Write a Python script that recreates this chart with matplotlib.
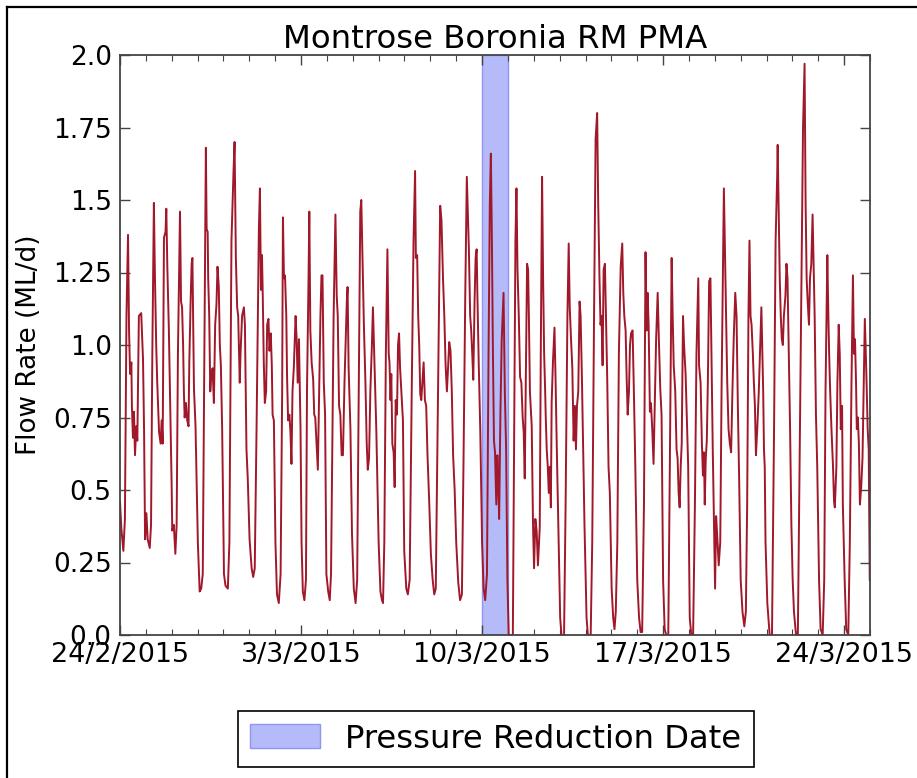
import matplotlib
matplotlib.use("Agg")
import matplotlib.pyplot as plt
import matplotlib.dates as mdates
from matplotlib.patches import Patch
from matplotlib.lines import Line2D
from matplotlib.ticker import FixedLocator, FixedFormatter
import pandas as pd

# ---------------- data ----------------
start_date = "2015-02-24"
# time offsets in days from start_date, and flow rate (ML/d)
t_week1 = [0.00, 0.05, 0.13, 0.19, 0.25, 0.31, 0.35, 0.39, 0.44, 0.46, 0.50, 0.54, 0.58, 0.63, 0.67, 0.73, 0.82, 0.89, 0.93, 0.97,
           1.02, 1.07, 1.15, 1.20, 1.25, 1.31, 1.35, 1.40, 1.44, 1.51, 1.57, 1.61, 1.65, 1.70, 1.76, 1.79, 1.83, 1.89, 1.96,
           2.00, 2.02, 2.08, 2.14, 2.19, 2.24, 2.32, 2.36, 2.40, 2.44, 2.47, 2.50, 2.55, 2.60, 2.65, 2.68, 2.73, 2.77, 2.80, 2.86, 2.92,
           3.01, 3.08, 3.14, 3.20, 3.25, 3.32, 3.35, 3.39, 3.41, 3.45, 3.49, 3.53, 3.58, 3.63, 3.68, 3.73, 3.77, 3.82, 3.86, 3.90, 3.95,
           4.02, 4.08, 4.17, 4.23, 4.31, 4.39, 4.43, 4.48, 4.53, 4.57, 4.63, 4.66, 4.72, 4.79, 4.83, 4.89, 4.94,
           5.01, 5.09, 5.15, 5.21, 5.28, 5.37, 5.41, 5.45, 5.49, 5.52, 5.56, 5.60, 5.65, 5.69, 5.74, 5.78, 5.83, 5.87, 5.90, 5.95,
           6.01, 6.07, 6.14, 6.21, 6.27, 6.30, 6.34, 6.38, 6.43, 6.46, 6.50, 6.55, 6.59, 6.63, 6.67, 6.72, 6.79, 6.83, 6.87, 6.92, 6.98]
q_week1 = [0.46, 0.37, 0.29, 0.40, 1.10, 1.38, 1.05, 0.90, 0.94, 0.79, 0.68, 0.77, 0.62, 0.72, 0.67, 1.10, 1.11, 0.95, 0.71, 0.33,
           0.42, 0.33, 0.30, 0.38, 0.97, 1.49, 1.24, 1.00, 0.87, 0.70, 0.66, 0.74, 0.66, 1.37, 1.39, 1.47, 1.27, 1.05, 0.71,
           0.50, 0.36, 0.38, 0.28, 0.38, 0.97, 1.46, 1.15, 1.13, 1.00, 0.84, 0.75, 0.80, 0.74, 0.72, 0.94, 1.15, 1.28, 1.30, 0.85, 0.72,
           0.32, 0.15, 0.16, 0.21, 0.84, 1.68, 1.40, 1.39, 1.23, 1.10, 0.84, 0.90, 0.92, 0.80, 1.07, 1.14, 1.27, 1.20, 1.00, 0.93, 0.71,
           0.21, 0.17, 0.16, 0.32, 1.36, 1.60, 1.70, 1.30, 1.13, 1.10, 0.87, 0.97, 1.10, 1.13, 1.07, 0.64, 0.54,
           0.33, 0.23, 0.20, 0.23, 0.71, 1.40, 1.54, 1.19, 1.31, 1.17, 0.94, 0.80, 0.84, 1.07, 1.09, 0.98, 1.04, 0.93, 0.76, 0.74,
           0.32, 0.14, 0.11, 0.21, 0.84, 1.44, 1.23, 1.24, 1.10, 0.89, 0.74, 0.76, 0.70, 0.59, 0.84, 0.92, 1.10, 1.02, 0.87, 1.02, 0.71]

t_week2 = [7.02, 7.07, 7.13, 7.19, 7.23, 7.29, 7.32, 7.36, 7.41, 7.47, 7.51, 7.55, 7.59, 7.65, 7.70, 7.75, 7.79, 7.83, 7.88, 7.93, 7.98,
           8.05, 8.11, 8.16, 8.20, 8.26, 8.33, 8.38, 8.42, 8.47, 8.52, 8.57, 8.62, 8.68, 8.73, 8.77, 8.80, 8.84, 8.91, 8.97,
           9.04, 9.11, 9.17, 9.23, 9.29, 9.33, 9.38, 9.43, 9.49, 9.54, 9.58, 9.63, 9.68, 9.74, 9.78, 9.83, 9.91,
           10.00, 10.07, 10.13, 10.17, 10.22, 10.28, 10.34, 10.39, 10.42, 10.46, 10.49, 10.53, 10.58, 10.62, 10.66, 10.71, 10.75, 10.79,
           10.83, 10.88, 10.94, 10.99,
           11.07, 11.13, 11.20, 11.28, 11.35, 11.41, 11.44, 11.49, 11.53, 11.57, 11.61, 11.65, 11.70, 11.74, 11.79, 11.84, 11.89, 11.96,
           12.02, 12.09, 12.15, 12.21, 12.28, 12.33, 12.38, 12.43, 12.49, 12.54, 12.59, 12.64, 12.69, 12.73, 12.78, 12.83, 12.88, 12.94,
           13.00, 13.08, 13.15, 13.22, 13.28, 13.35, 13.41, 13.45, 13.49, 13.54, 13.58, 13.62, 13.66, 13.71, 13.75, 13.79, 13.82, 13.87,
           13.93]
q_week2 = [0.32, 0.15, 0.12, 0.19, 0.84, 1.23, 1.46, 1.05, 0.94, 0.88, 0.76, 0.75, 0.68, 0.57, 0.84, 1.10, 1.24, 1.24, 0.87, 0.76, 0.21,
           0.15, 0.12, 0.21, 0.58, 1.10, 1.45, 1.17, 1.10, 0.79, 0.76, 0.62, 0.62, 0.87, 1.02, 1.15, 1.20, 0.92, 0.71, 0.35,
           0.16, 0.11, 0.19, 0.84, 1.46, 1.50, 1.28, 1.07, 0.87, 0.66, 0.57, 0.61, 0.84, 1.00, 1.13, 0.97, 0.71,
           0.32, 0.15, 0.12, 0.11, 0.32, 0.97, 1.33, 0.97, 0.94, 0.81, 0.90, 0.66, 0.63, 0.51, 0.81, 0.76, 1.00, 1.04,
           0.92, 0.84, 0.74, 0.29,
           0.16, 0.14, 0.19, 0.84, 1.36, 1.60, 1.30, 1.31, 1.10, 1.00, 0.83, 0.81, 0.88, 0.94, 0.81, 0.79, 0.62, 0.45,
           0.28, 0.19, 0.14, 0.16, 0.71, 1.10, 1.48, 1.43, 1.23, 1.10, 0.93, 0.84, 0.93, 1.01, 0.98, 0.84, 0.62, 0.50,
           0.32, 0.18, 0.12, 0.14, 0.58, 1.17, 1.58, 1.46, 1.33, 1.10, 1.05, 0.97, 0.88, 1.15, 1.30, 1.33, 1.17, 0.94,
           0.71]

t_week3 = [14.00, 14.06, 14.12, 14.19, 14.25, 14.30, 14.34, 14.38, 14.42, 14.46, 14.50, 14.55, 14.59, 14.63, 14.66, 14.71, 14.76,
           14.83, 14.88, 14.93, 14.98, 15.03, 15.19, 15.24, 15.29, 15.33, 15.37, 15.42, 15.47, 15.52, 15.57, 15.61, 15.65, 15.70,
           15.74, 15.78, 15.81, 15.85, 15.88, 15.92, 15.97,
           16.01, 16.06, 16.11, 16.16, 16.23, 16.27, 16.32, 16.36, 16.40, 16.44, 16.46, 16.50, 16.54, 16.58, 16.62, 16.66, 16.69, 16.74,
           16.80, 16.84, 16.89, 16.95,
           17.02, 17.07, 17.17, 17.23, 17.30, 17.35, 17.39, 17.44, 17.49, 17.54, 17.59, 17.63, 17.67, 17.72, 17.77, 17.81, 17.86, 17.90,
           17.96,
           18.04, 18.09, 18.20, 18.26, 18.33, 18.39, 18.45, 18.49, 18.54, 18.58, 18.62, 18.66, 18.70, 18.75, 18.79, 18.84, 18.89, 18.94,
           19.01, 19.07, 19.12, 19.17, 19.23, 19.29, 19.36, 19.42, 19.46, 19.50, 19.55, 19.59, 19.63, 19.68, 19.72, 19.76, 19.82, 19.87,
           19.92,
           20.00, 20.07, 20.13, 20.19, 20.26, 20.32, 20.36, 20.40, 20.44, 20.49, 20.53, 20.58, 20.63, 20.68, 20.73, 20.79, 20.83, 20.89,
           20.94]
q_week3 = [0.32, 0.16, 0.12, 0.21, 0.97, 1.49, 1.66, 1.36, 0.97, 0.67, 0.63, 0.45, 0.62, 0.51, 0.40, 0.77, 1.02,
           1.18, 0.84, 0.64, 0.19, 0.00, 0.00, 0.71, 1.36, 1.54, 1.26, 1.10, 0.89, 0.87, 0.75, 0.70, 0.54, 0.97,
           1.28, 1.26, 1.10, 0.84, 0.79, 0.72, 0.38,
           0.23, 0.40, 0.36, 0.24, 0.37, 0.97, 1.58, 1.23, 0.97, 0.84, 0.76, 0.64, 0.58, 0.49, 0.58, 0.44, 0.80, 0.94,
           1.06, 0.89, 0.64, 0.38,
           0.06, 0.00, 0.00, 0.45, 1.10, 1.35, 1.13, 1.02, 0.92, 0.67, 0.79, 0.64, 0.79, 0.84, 1.15, 1.10, 0.89, 0.68,
           0.38,
           0.06, 0.00, 0.00, 0.32, 1.10, 1.71, 1.80, 1.49, 1.23, 1.07, 1.10, 0.93, 1.26, 1.28, 1.10, 0.88, 0.58, 0.49,
           0.16, 0.06, 0.02, 0.08, 0.32, 0.97, 1.27, 1.35, 1.18, 1.10, 1.05, 0.89, 0.76, 0.84, 1.00, 1.04, 1.05, 0.84,
           0.61,
           0.19, 0.06, 0.01, 0.01, 0.45, 1.32, 1.05, 1.18, 1.07, 0.77, 0.80, 0.71, 0.59, 0.81, 1.02, 1.18, 1.04, 0.85,
           0.76]

t_week4 = [21.00, 21.06, 21.12, 21.20, 21.26, 21.33, 21.37, 21.41, 21.47, 21.52, 21.56, 21.60, 21.64, 21.68, 21.72, 21.77, 21.81,
           21.87, 21.92, 21.97,
           22.03, 22.09, 22.16, 22.23, 22.29, 22.36, 22.39, 22.45, 22.50, 22.54, 22.58, 22.61, 22.65, 22.69, 22.73, 22.78, 22.83,
           22.87, 22.92, 22.97,
           23.01, 23.05, 23.10, 23.15, 23.21, 23.26, 23.31, 23.35, 23.39, 23.43, 23.48, 23.53, 23.58, 23.63, 23.68, 23.73, 23.79,
           23.84, 23.89, 23.94,
           24.00, 24.07, 24.14, 24.20, 24.25, 24.30, 24.34, 24.38, 24.42, 24.47, 24.51, 24.55, 24.59, 24.64, 24.70, 24.80, 24.87,
           24.90, 24.93, 24.96,
           25.03, 25.12, 25.21, 25.29, 25.35, 25.41, 25.43, 25.47, 25.51, 25.55, 25.59, 25.63, 25.67, 25.73, 25.77, 25.81, 25.86,
           25.91, 25.96,
           26.01, 26.06, 26.14, 26.21, 26.29, 26.36, 26.41, 26.47, 26.51, 26.55, 26.59, 26.64, 26.68, 26.73, 26.78, 26.82, 26.86,
           26.91, 26.96,
           27.03, 27.09, 27.17, 27.23, 27.28, 27.35, 27.39, 27.42, 27.46, 27.51, 27.57, 27.61, 27.64, 27.70, 27.74, 27.79, 27.83,
           27.87, 27.92, 27.95,
           28.02, 28.08, 28.16, 28.22, 28.28, 28.34, 28.38, 28.42, 28.46, 28.49, 28.53, 28.57, 28.61, 28.66, 28.71, 28.76, 28.80,
           28.86, 28.91, 28.95, 28.99]
q_week4 = [0.19, 0.02, 0.00, 0.00, 0.58, 1.30, 1.10, 0.93, 0.84, 0.64, 0.61, 0.49, 0.44, 0.58, 0.66, 1.10, 1.00,
           0.90, 0.74, 0.58,
           0.06, 0.00, 0.00, 0.45, 0.97, 1.23, 0.93, 0.87, 0.66, 0.55, 0.63, 0.45, 0.61, 0.67, 0.87, 1.22, 1.23,
           0.97, 0.64, 0.38,
           0.16, 0.41, 0.33, 0.24, 0.32, 0.84, 1.23, 1.54, 1.33, 1.13, 0.87, 0.71, 0.66, 0.63, 0.84, 1.02, 1.18,
           1.10, 0.79, 0.54,
           0.19, 0.08, 0.03, 0.08, 0.45, 1.10, 1.36, 1.10, 1.07, 0.97, 0.87, 0.79, 0.62, 0.71, 0.84, 1.13, 0.84,
           0.64, 0.58, 0.32,
           0.11, 0.00, 0.00, 0.71, 1.36, 1.58, 1.69, 1.46, 1.23, 1.10, 1.02, 1.00, 1.10, 1.17, 1.28, 1.23, 0.97,
           0.71, 0.38,
           0.19, 0.08, 0.00, 0.00, 0.71, 1.36, 1.75, 1.97, 1.49, 1.23, 1.15, 1.07, 1.23, 1.28, 1.45, 1.28, 1.10,
           0.76, 0.58,
           0.19, 0.02, 0.00, 0.19, 0.84, 1.31, 1.10, 0.97, 0.84, 0.71, 0.58, 0.46, 0.44, 0.58, 0.87, 1.07, 0.97,
           0.71, 0.79, 0.45,
           0.19, 0.02, 0.00, 0.32, 0.84, 1.24, 0.97, 1.02, 0.87, 0.71, 0.75, 0.66, 0.45, 0.51, 0.61, 0.87, 1.09,
           0.90, 0.71, 0.64, 0.19]

pressure_reduction = ("2015-03-10", "2015-03-11")
x_range = ("2015-02-24", "2015-03-25")
major_ticks = ["2015-02-24", "2015-03-03", "2015-03-10", "2015-03-17", "2015-03-24"]
major_labels = ["24/2/2015", "3/3/2015", "10/3/2015", "17/3/2015", "24/3/2015"]
y_ticks = [0.0, 0.25, 0.5, 0.75, 1.0, 1.25, 1.5, 1.75, 2.0]
y_labels = ["0.0", "0.25", "0.5", "0.75", "1.0", "1.25", "1.5", "1.75", "2.0"]
title = "Montrose Boronia RM PMA"
y_title = "Flow Rate (ML/d)"
legend_label = "Pressure Reduction Date"

# ---------------- figure ----------------
plt.rcParams['font.family'] = ['DejaVu Sans']

t_all = t_week1 + t_week2 + t_week3 + t_week4
q_all = q_week1 + q_week2 + q_week3 + q_week4
times = pd.Timestamp(start_date) + pd.to_timedelta(t_all, unit="D")

fig = plt.figure(figsize=(9.17, 7.78), dpi=100, facecolor="white")
ax = fig.add_axes([120/917, 1-635/778, 750/917, 580/778])

band_color = "#b5bbf8"
ax.axvspan(pd.Timestamp(pressure_reduction[0]), pd.Timestamp(pressure_reduction[1]),
           facecolor=band_color, edgecolor="#8e96f2", lw=1.0, zorder=1)
ax.plot(times, q_all, color="#a0182a", lw=1.4, zorder=2)

ax.set_xlim(pd.Timestamp(x_range[0]), pd.Timestamp(x_range[1]))
ax.set_ylim(0, 2.0)

ax.xaxis.set_major_locator(FixedLocator(mdates.date2num(pd.to_datetime(major_ticks))))
ax.xaxis.set_major_formatter(FixedFormatter(major_labels))
ax.xaxis.set_minor_locator(mdates.DayLocator())
ax.yaxis.set_major_locator(FixedLocator(y_ticks))
ax.yaxis.set_major_formatter(FixedFormatter(y_labels))

ax.tick_params(axis="both", which="both", direction="in", top=True, right=True, color="#444444")
ax.tick_params(axis="both", which="major", length=7, width=1.0)
ax.tick_params(axis="both", which="minor", length=4, width=0.8)
ax.tick_params(axis="x", which="major", labelsize=19.4, pad=5)
ax.tick_params(axis="y", which="major", labelsize=19, pad=6)

for s in ax.spines.values():
    s.set_color("#444444")
    s.set_linewidth(1.3)

ax.set_title(title, fontsize=23.3, pad=5)
ax.set_ylabel(y_title, fontsize=18.9, labelpad=8)

handle = Patch(facecolor=band_color, edgecolor="#8e96f2", lw=1.0)
leg = fig.legend(handles=[handle], labels=[legend_label], loc="center",
                 bbox_to_anchor=(496/917, 1-739/778), fontsize=23.2, fancybox=False,
                 framealpha=1, edgecolor="black", handlelength=2.15, handleheight=0.75,
                 handletextpad=0.8, borderpad=0.4)
leg.get_frame().set_linewidth(1.2)

# outer frame lines (top and left) as in the reference image
fig.add_artist(Line2D([7/917, 7/917], [0, 1-7/778], color="black", lw=1.6, transform=fig.transFigure))
fig.add_artist(Line2D([7/917, 1], [1-7/778, 1-7/778], color="black", lw=1.6, transform=fig.transFigure))

fig.savefig("out.png", dpi=100, facecolor="white")
